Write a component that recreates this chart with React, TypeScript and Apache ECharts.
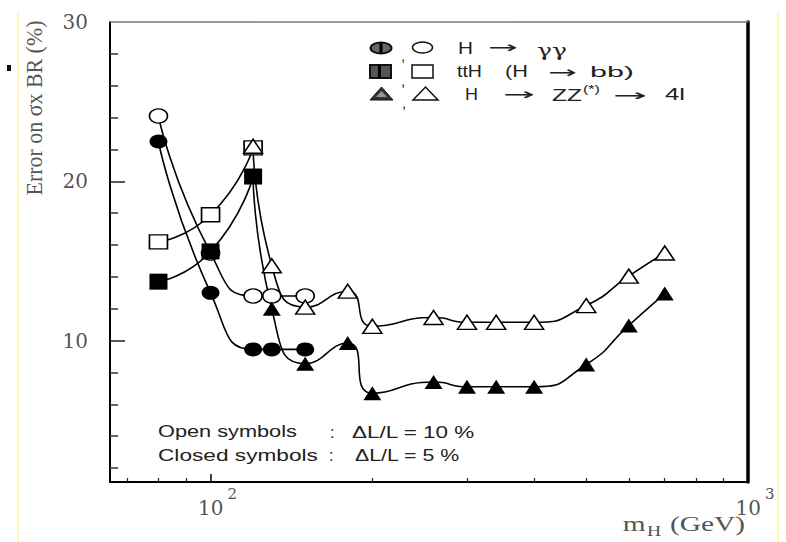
import React, { useEffect, useRef } from 'react';
import * as echarts from 'echarts';

// ---- data ----
const massGG = [80, 100, 120, 130, 150];
const ggOpen = [24.1, 15.5, 12.8, 12.8, 12.8];
const ggClosed = [22.5, 13.0, 9.45, 9.45, 9.45];

const massTTH = [80, 100, 120];
const tthOpen = [16.2, 17.9, 22.1];
const tthClosed = [13.7, 15.6, 20.3];

const massZZ = [120, 130, 150, 180, 200, 260, 300, 340, 400, 500, 600, 700];
const zzOpen = [22.2, 14.7, 12.1, 13.1, 10.9, 11.45, 11.15, 11.15, 11.15, 12.2, 14.05, 15.5];
const zzClosed = [20.3, 12.0, 8.55, 9.85, 6.7, 7.4, 7.1, 7.1, 7.1, 8.5, 10.95, 12.95];

// ---- axes ----
const xMin = 65;
const xMax = 1000;
const yMin = 1.125;
const yMax = 30;
const xLabelValues = [100, 1000];
const xMajorTicks = [100];
const xMinorTicks = [70, 80, 90, 200, 300, 400, 500, 600, 700, 800, 900];
const yLabelValues = [10, 20, 30];
const yMajorTicks = [10, 20];
const yMinorTicks = [2, 4, 6, 8, 12, 14, 16, 18, 22, 24, 26, 28];

const measureCtx = typeof document !== 'undefined' ? document.createElement('canvas').getContext('2d') : null;
function measure(text: string, size: number, family: string) {
  if (!measureCtx) return text.length * size * 0.55;
  measureCtx.font = `${size}px "${family}"`;
  return measureCtx.measureText(text).width || 1;
}

function T(text: string, x: number, y: number, width: number, opt: any = {}) {
  const size = opt.size ?? 16;
  const family = opt.family ?? 'Liberation Sans';
  const w = measure(text, size, family);
  return {
    type: 'text',
    x,
    y,
    scaleX: width ? width / w : 1,
    silent: true,
    style: {
      text,
      x: 0,
      y: 0,
      fontSize: size,
      fontFamily: family,
      fill: opt.color ?? '#222',
      align: 'left',
      verticalAlign: 'middle',
    },
  };
}

function pairs(xs: number[], ys: number[]) {
  return xs.map((x, i) => [x, ys[i]]);
}

function mkSeries(name: string, xs: number[], ys: number[], symbol: string, size: number[], filled: boolean) {
  return {
    name,
    type: 'line',
    data: pairs(xs, ys),
    smooth: 0.6,
    symbol,
    symbolSize: size,
    showSymbol: true,
    lineStyle: { color: '#000', width: 1.6 },
    itemStyle: filled
      ? { color: '#000', borderColor: '#000', borderWidth: 0 }
      : { color: '#fff', borderColor: '#000', borderWidth: 1.5 },
    emphasis: { disabled: true },
  };
}

export default function App() {
  const ref = useRef<HTMLDivElement>(null);

  useEffect(() => {
    if (!ref.current) return;
    const chart = echarts.init(ref.current, null, { renderer: 'svg' });

    const serif = 'DejaVu Serif';
    const labelColor = '#555';

    const graphic: any[] = [
      // scan artifacts
      { type: 'line', silent: true, shape: { x1: 18, y1: 12, x2: 18, y2: 542 }, style: { stroke: '#fff3a0', lineWidth: 1.5 } },
      { type: 'line', silent: true, shape: { x1: 778, y1: 12, x2: 778, y2: 542 }, style: { stroke: '#fff3a0', lineWidth: 1.5 } },
      { type: 'rect', silent: true, shape: { x: 7, y: 65, width: 4, height: 6 }, style: { fill: '#111' } },

      // y axis name
      {
        type: 'text',
        x: 34,
        y: 108,
        rotation: Math.PI / 2,
        scaleX: 175 / measure('Error on σx BR (%)', 19, 'Liberation Serif'),
        scaleY: 1.25,
        silent: true,
        style: {
          text: 'Error on σx BR (%)',
          x: 0,
          y: 0,
          fontSize: 19,
          fontFamily: 'Liberation Serif',
          fill: labelColor,
          align: 'center',
          verticalAlign: 'middle',
        },
      },
      // x axis name
      {
        type: 'text',
        x: 745,
        y: 524,
        scaleX: 1.4,
        silent: true,
        style: {
          text: 'm{sub|H} (GeV)',
          x: 0,
          y: 0,
          fontSize: 21,
          fontFamily: 'Liberation Serif',
          fill: labelColor,
          align: 'right',
          verticalAlign: 'middle',
          rich: {
            sub: { fontSize: 14, fontFamily: 'Liberation Serif', fill: labelColor, padding: [14, 1, 0, 1] },
          },
        },
      },

      // legend symbols
      { type: 'ellipse', silent: true, shape: { cx: 381, cy: 48, rx: 10.5, ry: 5.5 }, style: { fill: '#666', stroke: '#111', lineWidth: 2 } },
      { type: 'rect', silent: true, shape: { x: 379.5, y: 43, width: 3, height: 10 }, style: { fill: '#000' } },
      { type: 'ellipse', silent: true, shape: { cx: 422.5, cy: 47.5, rx: 10, ry: 5.5 }, style: { fill: 'none', stroke: '#111', lineWidth: 1.5 } },
      { type: 'rect', silent: true, shape: { x: 370, y: 65, width: 21, height: 13 }, style: { fill: '#555', stroke: '#111', lineWidth: 2 } },
      { type: 'rect', silent: true, shape: { x: 378, y: 65, width: 3, height: 13 }, style: { fill: '#000' } },
      { type: 'rect', silent: true, shape: { x: 412, y: 65, width: 21, height: 13 }, style: { fill: 'none', stroke: '#111', lineWidth: 1.5 } },
      { type: 'polygon', silent: true, shape: { points: [[370, 100], [381.5, 87], [393, 100]] }, style: { fill: '#333', stroke: '#111', lineWidth: 1 } },
      { type: 'polygon', silent: true, shape: { points: [[376, 97], [381.5, 91], [387, 97]] }, style: { fill: '#999' } },
      { type: 'polygon', silent: true, shape: { points: [[413, 100], [425.5, 87], [438, 100]] }, style: { fill: 'none', stroke: '#111', lineWidth: 1.5 } },
      T(',', 401, 55, 0, { size: 15 }),
      T(',', 401, 80, 0, { size: 15 }),
      T(',', 402, 102, 0, { size: 15 }),

      // legend texts
      T('H', 458, 48, 15),
      T('→', 488, 48, 30, { family: 'DejaVu Sans' }),
      T('γγ', 537, 50, 30, { family: 'DejaVu Serif', size: 16 }),
      T('ttH', 457, 72, 25),
      T('(H', 505, 72, 23),
      T('→', 548, 72, 29, { family: 'DejaVu Sans' }),
      T('bb)', 590, 72, 44, { size: 15 }),
      T('H', 465, 95, 13),
      T('→', 503, 95, 32, { family: 'DejaVu Sans' }),
      T('ZZ', 552, 95, 30),
      T('(*)', 583, 89, 17, { size: 11 }),
      T('→', 613, 95, 34, { family: 'DejaVu Sans' }),
      T('4l', 665, 95, 20),

      // annotation
      T('Open symbols', 158, 432, 139),
      T(':', 330, 432, 0),
      T('ΔL/L = 10 %', 352, 432, 123),
      T('Closed symbols', 158, 455, 160),
      T(':', 329, 455, 0),
      T('ΔL/L = 5 %', 355, 455, 105),
    ];

    const option: any = {
      animation: false,
      backgroundColor: '#fff',
      grid: { left: 110, top: 22, right: 38, bottom: 60, outerBoundsMode: 'none' },
      xAxis: [
        {
          type: 'log',
          logBase: 10,
          min: xMin,
          max: xMax,
          position: 'bottom',
          axisLine: { show: true, onZero: false, lineStyle: { color: '#000', width: 2 } },
          axisTick: { show: true, inside: true, length: 8, customValues: xMajorTicks, lineStyle: { color: '#000', width: 1.5 } },
          axisLabel: {
            show: true,
            customValues: xLabelValues,
            margin: 4,
            formatter: (v: number) => `{b|10}{s|${Math.round(Math.log10(v))}}`,
            rich: {
              b: { fontFamily: serif, fontSize: 20, color: labelColor, padding: [0, 0, 0, 14] },
              s: { fontFamily: serif, fontSize: 15, color: labelColor, padding: [0, 0, 28, 4] },
            },
          },
          splitLine: { show: false },
          minorTick: { show: false },
        },
        {
          type: 'log',
          logBase: 10,
          min: xMin,
          max: xMax,
          position: 'bottom',
          axisLine: { show: false, onZero: false },
          axisTick: { show: true, inside: true, length: 4, customValues: xMinorTicks, lineStyle: { color: '#222', width: 1.2 } },
          axisLabel: { show: false },
          splitLine: { show: false },
        },
        {
          type: 'value',
          min: 0,
          max: 1,
          position: 'top',
          axisLine: { show: true, onZero: false, lineStyle: { color: '#777', width: 1.5 } },
          axisTick: { show: false },
          axisLabel: { show: false },
          splitLine: { show: false },
        },
      ],
      yAxis: [
        {
          type: 'value',
          min: yMin,
          max: yMax,
          position: 'left',
          axisLine: { show: true, onZero: false, lineStyle: { color: '#000', width: 2 } },
          axisTick: { show: true, inside: true, length: 15, customValues: yMajorTicks, lineStyle: { color: '#222', width: 1.5 } },
          axisLabel: {
            show: true,
            customValues: yLabelValues,
            margin: 22,
            fontFamily: serif,
            fontSize: 20,
            color: labelColor,
          },
          splitLine: { show: false },
        },
        {
          type: 'value',
          min: yMin,
          max: yMax,
          position: 'left',
          axisLine: { show: false, onZero: false },
          axisTick: { show: true, inside: true, length: 8, customValues: yMinorTicks, lineStyle: { color: '#333', width: 1.5 } },
          axisLabel: { show: false },
          splitLine: { show: false },
        },
        {
          type: 'value',
          min: 0,
          max: 1,
          position: 'right',
          axisLine: { show: true, onZero: false, lineStyle: { color: '#000', width: 3.5 } },
          axisTick: { show: false },
          axisLabel: { show: false },
          splitLine: { show: false },
        },
      ],
      series: [
        mkSeries('H→γγ (ΔL/L=10%)', massGG, ggOpen, 'circle', [18, 14], false),
        mkSeries('ttH (ΔL/L=10%)', massTTH, tthOpen, 'rect', [18, 14], false),
        mkSeries('H→ZZ→4l (ΔL/L=10%)', massZZ, zzOpen, 'triangle', [19, 14], false),
        mkSeries('H→γγ (ΔL/L=5%)', massGG, ggClosed, 'circle', [18, 14], true),
        mkSeries('H→ZZ→4l (ΔL/L=5%)', massZZ, zzClosed, 'triangle', [18, 14], true),
        mkSeries('ttH (ΔL/L=5%)', massTTH, tthClosed, 'rect', [18, 16], true),
      ],
      graphic,
    };

    chart.setOption(option);
    return () => chart.dispose();
  }, []);

  return (
    <div
      ref={ref}
      style={{ position: 'fixed', left: 0, top: 0, width: 786, height: 542, background: '#fff' }}
    />
  );
}
